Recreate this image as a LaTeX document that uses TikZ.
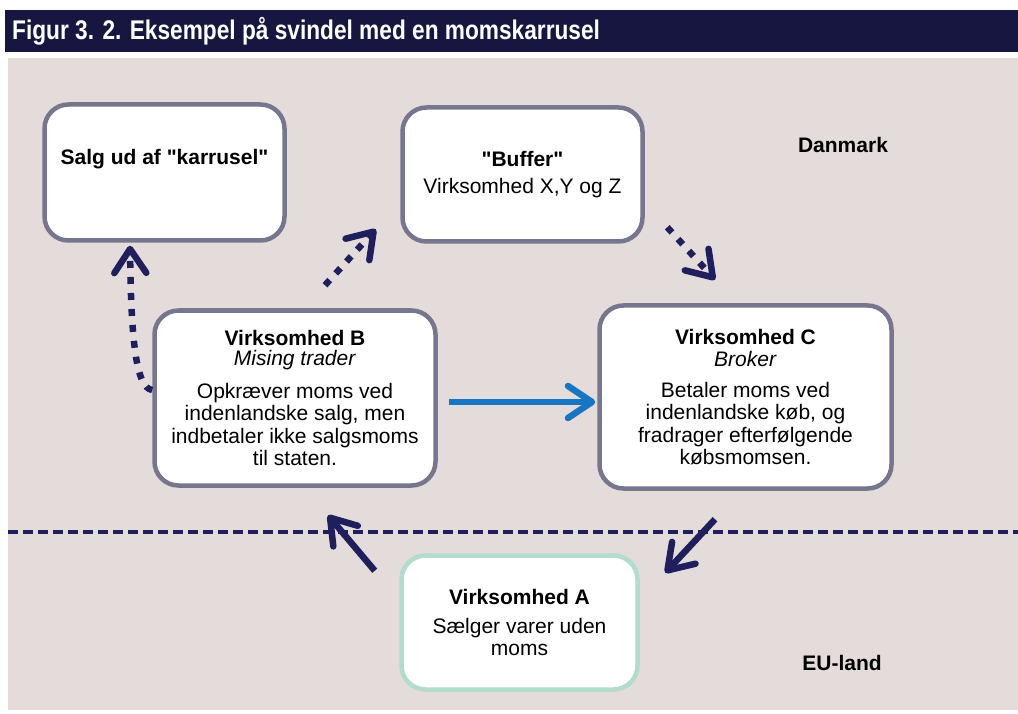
\documentclass[tikz,border=0pt]{standalone}
\usepackage{fontspec}
\setmainfont{Liberation Sans}[Ligatures=TeXOff]
\newfontfamily\titlefont[FakeStretch=0.84]{Liberation Sans}
\usepackage{xcolor}
\usepackage{tikz}
\usetikzlibrary{arrows.meta,positioning}
\definecolor{titlenavy}{RGB}{22, 22, 64}
\definecolor{panelgray}{RGB}{227, 220, 218}
\definecolor{boxborder}{RGB}{119, 118, 143}
\definecolor{mintborder}{RGB}{178, 220, 204}
\definecolor{arrownavy}{RGB}{30, 31, 92}
\definecolor{flowblue}{RGB}{22, 118, 196}

\begin{document}
\begin{tikzpicture}[x=1pt, y=-1pt,
    every node/.style={font=\fontsize{21}{22.5}\selectfont, align=center},
    firmbox/.style={draw=boxborder, line width=4.5pt, fill=white, rounded corners=24pt, inner sep=0pt},
    eubox/.style={firmbox, draw=mintborder},
    dotflow/.style={draw=arrownavy, line width=6.5pt, dash pattern=on 7pt off 9pt, -{Straight Barb[length=24pt, width=32pt, round]}},
    solidflow/.style={draw=arrownavy, line width=6.5pt, -{Straight Barb[length=24pt, width=32pt, round]}},
    blueflow/.style={draw=flowblue, line width=6.5pt, -{Straight Barb[length=24pt, width=32pt, round]}}]
    \useasboundingbox (0, 0) rectangle (1018, 714);

    % title bar and panel
    \fill[titlenavy] (5, 10) rectangle (1018, 52);
    \node[anchor=west, inner sep=0pt, text=white, font=\titlefont\bfseries\fontsize{27}{30}\selectfont] (title) at (12, 31) {Figur 3. 2. Eksempel på svindel med en momskarrusel};
    \fill[panelgray] (8, 58) rectangle (1018, 710);

    % border between Danmark and EU-land
    \draw[arrownavy, line width=4pt, dash pattern=on 10pt off 5pt] (8, 532) -- (1018, 532);
    \node[font=\bfseries\fontsize{21}{22.5}\selectfont] (dk) at (843, 145) {Danmark};
    \node[font=\bfseries\fontsize{21}{22.5}\selectfont] (eu) at (842, 663) {EU-land};

    % firms
    \node[firmbox, minimum width=240, minimum height=136] (salg) at (164.5, 172.5) {\textbf{Salg ud af "karrusel"}\\[8pt]\mbox{}};
    \node[firmbox, minimum width=240, minimum height=134] (buffer) at (522.5, 174.5) {\textbf{"Buffer"}\\[4pt]Virksomhed X,Y og Z};
    \node[firmbox, minimum width=281, minimum height=175] (B) at (295, 398) {\textbf{Virksomhed B}\\[-2pt]\textit{Mising trader}\\[10pt]Opkræver moms ved\\indenlandske salg, men\\indbetaler ikke salgsmoms\\til staten.};
    \node[firmbox, minimum width=292, minimum height=183] (C) at (745.5, 397) {\textbf{Virksomhed C}\\\textit{Broker}\\[8pt]Betaler moms ved\\indenlandske køb, og\\fradrager efterfølgende\\købsmomsen.};
    \node[eubox, minimum width=236, minimum height=134] (A) at (519.5, 622.5) {\textbf{Virksomhed A}\\[6pt]Sælger varer uden\\moms};

    % flows
    \draw[dotflow, shorten >=3pt] ([yshift=8pt]B.west) .. controls (136, 388) and (131, 340) .. ([xshift=-34.5pt]salg.south);
    \draw[dotflow] ([xshift=30pt, yshift=23pt]B.north) -- ([xshift=-24.5pt, yshift=14.5pt]buffer.south west);
    \draw[dotflow] ([xshift=22.5pt, yshift=16.5pt]buffer.south east) -- ([xshift=-30.5pt, yshift=23.5pt]C.north);
    \draw[blueflow, shorten >=2pt] ([xshift=11.5pt, yshift=-4pt]B.east) -- ([yshift=-4pt]B.east -| C.west);
    \draw[solidflow] ([xshift=-30.5pt, yshift=-28.5pt]C.south) -- ([xshift=25.5pt, yshift=-19.5pt]A.north east);
    \draw[solidflow] ([xshift=-24.5pt, yshift=-17.5pt]A.north west) -- ([xshift=33pt, yshift=-27.5pt]B.south);
\end{tikzpicture}
\end{document}
